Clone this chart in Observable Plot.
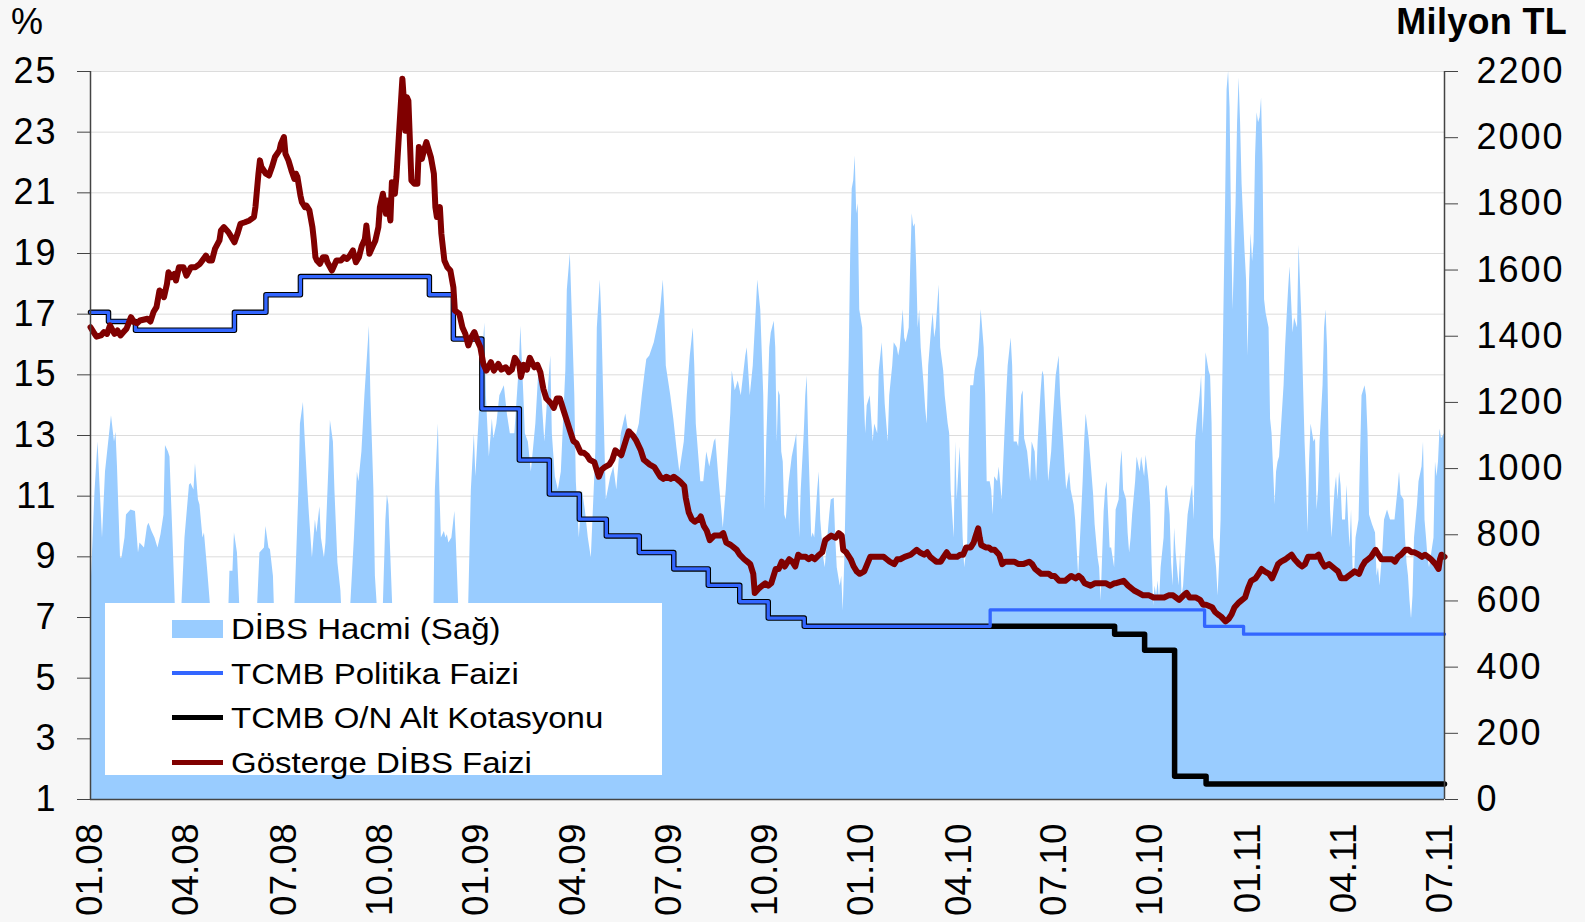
<!DOCTYPE html>
<html>
<head>
<meta charset="utf-8">
<script src="https://cdn.jsdelivr.net/npm/d3@7"></script>
<script src="https://cdn.jsdelivr.net/npm/@observablehq/plot@0.6"></script>
<style>
  html, body { margin: 0; padding: 0; background: #f7f7f7; }
  #wrap { position: relative; width: 1585px; height: 922px; font-family: "Liberation Sans", Arial, sans-serif; color: #000; overflow: hidden; }
  #chart { position: absolute; left: 0; top: 0; }
  #chart g[aria-label="y-axis tick label"] text { letter-spacing: 2px; }
  .unit { position: absolute; font-size: 36px; line-height: 1; }
  #legend { position: absolute; left: 105px; top: 603px; width: 557px; height: 172px; background: #fff; }
  .item { position: absolute; left: 0; height: 44px; width: 557px; }
  .sw { position: absolute; left: 67px; width: 51px; }
  .lt { position: absolute; left: 126px; font-size: 30px; line-height: 1; white-space: nowrap; transform: scaleX(1.1); transform-origin: 0 50%; }
</style>
</head>
<body>
<div id="wrap">
  <div id="chart"></div>
  <div class="unit" style="left:11px; top:4px;">%</div>
  <div class="unit" style="right:18px; top:4px; font-weight:bold; letter-spacing:0.3px;">Milyon TL</div>
  <div id="legend"></div>
</div>
<script>
// ---- axis tick labels ----
const xTickIdx = [0, 64, 129, 193, 257, 322, 386, 450, 514, 579, 643, 707, 772, 836, 900];
const xTickLabels = ["01.08","04.08","07.08","10.08","01.09","04.09","07.09","10.09","01.10","04.10","07.10","10.10","01.11","04.11","07.11"];
const leftTicks = [1,3,5,7,9,11,13,15,17,19,21,23,25];
const rightTicks = [0,200,400,600,800,1000,1200,1400,1600,1800,2000,2200];

// ---- series names ----
const seriesNames = ["DİBS Hacmi (Sağ)", "TCMB Politika Faizi", "TCMB O/N Alt Kotasyonu", "Gösterge DİBS Faizi"];

// ---- DİBS Hacmi (Milyon TL), business-day index ----
const volIdx = [0,3,5,8,10,14,16,17,18,20,21,23,24,27,30,32,33,36,38,39,41,43,45,47,49,50,52,53,55,57,59,61,63,66,67,69,70,72,73,75,76,78,81,86,92,93,95,96,98,100,106,111,113,116,117,119,120,122,123,130,136,139,140,142,143,145,146,148,150,151,153,154,156,157,159,160,162,163,165,167,168,171,173,176,178,179,181,183,186,187,189,190,192,193,195,197,198,199,202,215,228,
229,230,232,233,234,236,237,238,239,241,243,244,246,249,252,254,256,257,259,261,263,264,266,267,268,269,271,273,276,278,280,283,286,287,289,290,292,294,297,299,301,303,305,307,308,310,312,314,317,318,320,321,323,324,326,328,330,332,334,337,338,340,341,343,344,347,349,351,354,357,359,361,363,366,368,370,371,373,376,378,380,382,383,384,387,389,391,393,396,398,400,402,403,404,407,409,411,413,416,417,419,421,422,424,427,428,430,432,434,437,438,440,442,444,445,447,449,
450,451,453,454,456,457,458,459,460,461,462,463,464,466,468,470,471,472,473,474,476,477,478,479,481,482,483,485,486,487,489,490,492,493,494,496,497,498,500,501,502,503,504,506,507,508,509,510,511,512,513,515,516,517,518,520,521,522,523,525,526,528,529,530,532,533,535,536,538,539,540,542,543,544,546,547,548,549,550,551,552,553,554,556,557,558,559,561,562,563,564,566,567,569,570,572,573,574,576,577,578,580,581,582,583,585,586,587,589,590,592,593,594,596,597,598,600,601,602,603,605,606,608,610,611,612,614,615,616,618,619,621,622,623,625,627,628,630,631,632,634,635,636,638,639,641,642,644,646,647,649,650,651,653,654,656,657,659,661,662,663,664,666,667,669,670,672,673,674,676,677,678,680,681,683,
684,686,687,688,689,691,692,693,694,695,697,698,700,701,703,704,706,707,708,709,710,711,712,713,714,716,717,718,720,721,722,723,724,726,727,728,729,731,732,733,735,736,737,738,740,741,742,743,744,746,747,748,749,751,752,753,754,755,756,757,758,759,760,761,762,763,764,765,766,767,768,770,771,772,773,774,775,776,777,778,779,780,781,782,783,784,786,787,788,790,791,792,793,794,796,797,798,799,800,802,803,804,805,806,808,809,810,811,812,813,814,816,817,818,819,820,822,823,824,825,826,827,828,830,831,832,833,834,835,837,838,839,840,841,842,843,844,846,847,848,850,851,852,853,855,857,858,859,860,862,863,865,867,868,870,872,873,874,876,877,878,879,880,881,882,883,885,886,888,889,890,891,892,893,894,896,897,898,899,900,901,903];
const volVal = [600,930,1080,790,990,1160,1080,1110,1005,730,730,790,860,875,870,745,775,760,825,835,810,790,760,800,860,1070,1050,1035,790,530,450,590,790,950,955,935,1015,905,890,790,805,700,530,450,540,690,690,805,745,540,450,540,745,760,825,760,755,675,530,480,540,935,1135,1200,1105,935,860,730,845,805,885,790,730,775,1005,1145,1080,935,715,630,530,480,540,790,990,960,1050,1220,1430,1220,935,675,530,500,540,845,920,890,530,450,540,
545,935,1135,935,790,810,790,800,775,790,870,775,530,450,545,935,1105,975,1135,1310,1440,1220,1035,1090,1150,1090,1135,1220,1250,1165,1105,1105,1310,1430,1220,1105,1080,990,1135,1295,1220,1080,1220,1340,1105,975,935,990,1295,1540,1650,1510,1220,960,790,935,875,790,730,1050,1425,1570,1455,1080,905,975,1005,935,1105,1165,1105,1120,1080,1135,1220,1295,1330,1340,1380,1425,1470,1570,1480,1310,1220,1150,1065,990,1080,1220,1340,1425,1310,1135,960,960,1050,1005,1080,1090,975,875,820,935,1165,1295,1235,1265,1220,1340,1365,1220,1310,1480,1570,1480,1220,
875,1080,1365,1410,1445,1365,1080,1235,1220,1050,1020,860,845,960,1035,1080,1105,935,790,935,1105,1220,1280,1080,790,805,790,935,990,845,730,700,805,860,905,910,790,700,645,675,570,715,935,1340,1655,1845,1870,1945,1770,1800,1480,1425,1220,1105,1190,1220,1150,1080,1135,1105,1295,1380,1295,1195,1080,1220,1310,1380,1365,1340,1365,1480,1395,1380,1425,1610,1770,1730,1740,1610,1425,1480,1365,1250,1180,1135,1310,1425,1470,1395,1425,1555,1365,1295,1220,1135,1105,935,790,1080,905,1065,935,790,700,775,1080,1250,1250,1295,1340,1395,1480,1365,1220,960,960,935,860,975,960,1005,905,1120,1220,1310,1395,1310,1080,1080,1065,1220,1235,1090,1050,960,1080,1050,960,1080,1235,1295,1280,1080,960,1050,1135,1280,1340,1220,1080,1005,935,990,935,890,845,675,860,960,1080,1165,1090,1035,920,830,730,700,600,870,935,960,760,760,700,
875,905,1005,1055,935,905,805,745,790,860,960,1035,990,1035,975,1040,960,890,715,585,645,615,660,600,700,790,935,950,860,715,645,820,745,645,745,615,645,790,860,890,950,845,1080,1135,1220,1280,1105,1195,1350,1295,1280,1135,790,700,615,715,845,1220,1510,1800,2145,2200,2090,1730,1480,1640,1800,2045,2180,2045,1860,1655,1570,1340,1570,1710,1625,1685,1945,2075,2045,2060,2120,1915,1510,1470,1425,1150,1105,890,990,1020,1035,1105,1250,1365,1455,1540,1610,1410,1455,1440,1425,1675,1440,1250,1080,960,805,1020,1135,1080,1090,875,935,1080,1250,1425,1480,1365,1080,875,790,935,975,905,990,950,845,845,950,845,760,875,700,675,790,845,1035,1220,1250,1220,1105,860,830,805,675,700,645,760,845,875,845,845,845,935,990,920,905,790,715,675,600,545,615,790,890,960,1005,1080,845,790,730,700,730,790,1020,975,1020,1120,1090,1105];

// ---- Gösterge DİBS Faizi (%) ----
const yieldIdx = [0,2,4,7,9,11,13,16,18,20,22,24,27,29,31,33,38,40,42,44,46,48,49,51,52,54,56,57,59,62,64,67,70,73,77,79,81,83,86,87,89,92,94,96,98,100,103,106,109,110,112,113,114,117,119,121,123,126,127,129,130,132,134,136,137,138,140,141,143,144,146,148,149,150,151,153,155,157,158,161,162,164,167,169,171,173,175,177,179,181,183,184,186,188,190,192,193,195,197,198,200,201,203,204,206,208,209,210,211,212,214,216,218,219,221,223,224,227,229,230,231,233,234,236,238,240,242,243,246,248,250,252,254,256,258,260,262,264,267,269,272,
274,277,279,281,283,286,287,289,291,293,296,298,300,302,304,307,309,311,313,316,318,320,322,324,327,329,331,333,336,338,339,341,343,346,348,350,352,354,357,359,362,364,367,369,371,373,376,378,380,382,384,387,389,391,393,396,397,399,401,403,406,407,409,411,413,416,418,420,422,424,427,429,431,433,436,438,440,442,443,446,448,
450,452,454,457,459,461,463,466,468,470,472,474,477,479,481,483,486,488,490,492,494,497,499,501,502,504,507,509,511,513,516,518,520,523,527,529,531,533,536,538,540,543,547,549,551,553,556,558,560,562,564,567,569,571,573,576,578,580,582,584,587,589,590,592,593,594,597,599,601,603,606,608,610,612,616,619,622,626,628,630,632,634,637,639,641,643,646,648,650,652,654,657,659,661,663,667,670,673,677,680,683,
684,689,692,696,699,702,706,709,712,716,719,722,726,729,731,733,737,740,742,744,748,750,752,754,757,759,761,763,766,768,770,772,774,777,779,781,783,786,788,790,792,794,797,799,801,803,806,808,810,812,814,817,819,821,823,826,828,830,832,834,837,839,841,843,846,848,850,852,854,857,859,861,863,866,868,870,872,874,877,879,881,883,886,888,890,892,894,897,899,900,901,903];
const yieldVal = [16.57,16.41,16.26,16.3,16.41,16.35,16.63,16.35,16.46,16.3,16.41,16.52,16.9,16.74,16.7,16.79,16.85,16.76,17.07,17.23,17.78,17.67,17.56,18.0,18.38,18.22,18.33,18.11,18.55,18.55,18.27,18.55,18.55,18.66,18.93,18.77,18.77,19.15,19.43,19.76,19.87,19.7,19.54,19.37,19.65,19.98,20.03,20.09,20.2,20.53,21.63,22.07,21.85,21.63,21.57,21.85,22.18,22.4,22.62,22.84,22.29,22.07,21.74,21.46,21.63,21.52,20.91,20.69,20.53,20.58,20.42,19.87,19.43,18.88,18.77,18.66,18.88,18.88,18.71,18.44,18.55,18.77,18.77,18.88,18.82,18.93,19.1,18.71,18.88,19.26,19.48,19.92,18.99,19.21,19.43,19.87,20.53,20.97,20.31,20.75,20.09,21.35,20.97,21.52,23.16,24.76,24.04,23.05,24.15,24.04,21.41,21.3,21.3,22.51,22.12,22.51,22.67,22.18,21.63,20.53,20.2,20.53,19.65,18.77,18.55,18.44,17.89,17.12,17.01,16.57,16.35,15.97,16.24,16.41,16.13,15.91,15.36,15.14,15.42,15.14,15.36,
15.17,15.25,15.09,15.17,15.56,15.33,14.93,15.33,15.17,15.56,15.25,15.33,15.09,14.54,14.22,14.07,13.91,14.22,14.22,13.75,13.44,13.13,12.82,12.75,12.43,12.43,12.35,12.2,12.12,11.8,11.64,11.88,11.96,12.04,12.2,12.51,12.43,12.35,12.83,13.14,12.98,12.83,12.51,12.2,12.12,12.04,11.96,11.8,11.64,11.57,11.64,11.57,11.64,11.57,11.49,11.33,10.94,10.46,10.24,10.16,10.26,10.33,10.02,9.86,9.55,9.7,9.7,9.7,9.78,9.47,9.39,9.31,9.23,9.07,8.92,8.84,8.76,8.44,7.81,7.97,8.05,
8.13,8.05,8.13,8.6,8.6,8.84,8.68,8.92,8.84,8.68,9.07,9.0,9.0,8.92,9.0,8.92,9.07,9.15,9.55,9.63,9.7,9.63,9.78,9.7,9.23,9.15,8.92,8.68,8.52,8.44,8.52,8.76,9.0,9.0,9.0,9.0,8.92,8.84,8.76,8.92,8.92,9.0,9.07,9.15,9.23,9.15,9.07,9.15,9.0,8.92,8.84,8.84,9.0,9.15,9.0,9.0,9.0,9.07,9.07,9.31,9.31,9.47,9.63,9.94,9.63,9.39,9.31,9.31,9.23,9.23,9.07,8.76,8.84,8.84,8.84,8.76,8.76,8.84,8.76,8.6,8.52,8.44,8.44,8.44,8.37,8.37,8.21,8.21,8.21,8.29,8.37,8.29,8.37,8.29,8.13,8.05,8.13,8.13,8.13,8.05,8.13,
8.13,8.21,8.05,7.89,7.81,7.73,7.73,7.66,7.66,7.66,7.73,7.73,7.58,7.73,7.81,7.66,7.66,7.58,7.42,7.42,7.34,7.18,7.1,7.03,6.87,6.95,7.1,7.34,7.5,7.58,7.66,7.97,8.21,8.29,8.44,8.6,8.52,8.44,8.29,8.52,8.76,8.84,8.92,9.0,9.07,8.92,8.76,8.68,8.76,9.0,9.0,9.0,9.07,8.84,8.68,8.76,8.68,8.6,8.52,8.29,8.29,8.37,8.44,8.52,8.44,8.68,8.84,8.92,9.0,9.23,9.07,8.92,8.92,8.92,8.92,8.84,9.0,9.07,9.23,9.23,9.15,9.15,9.07,9.0,9.07,9.0,8.92,8.76,8.6,8.92,9.07,9.0];

// ---- TCMB Politika Faizi (%), change points ----
const policyIdx = [0,12,30,96,117,140,226,242,261,286,306,326,344,366,389,412,433,452,476,600,743,769,903];
const policyVal = [17.06,16.76,16.47,17.06,17.64,18.24,17.64,16.18,13.88,12.19,11.07,10.24,9.69,9.14,8.60,8.06,7.52,6.98,6.71,7.25,6.71,6.45,6.45];

// ---- TCMB O/N Alt Kotasyonu (%), change points ----
const onIdx = [0,12,30,96,117,140,226,242,261,286,306,326,344,366,389,412,433,452,476,683,703,723,744,903];
const onVal = [17.06,16.76,16.47,17.06,17.64,18.24,17.64,16.18,13.88,12.19,11.07,10.24,9.69,9.14,8.60,8.06,7.52,6.98,6.71,6.45,5.92,1.77,1.51,1.51];

const colors = { vol: "#99ccff", policy: "#3366ff", on: "#000000", yield: "#800000" };

// ---- build tables ----
const toLeft = v => 1 + v * 24 / 2200;
const vol = volIdx.map((i, k) => ({ i, v: volVal[k] }));
const yld = yieldIdx.map((i, k) => ({ i, r: yieldVal[k] }));
const pol = policyIdx.map((i, k) => ({ i, r: policyVal[k] }));
const on = onIdx.map((i, k) => ({ i, r: onVal[k] }));
const xDomain = [0, 903];

const chart = Plot.plot({
  width: 1585,
  height: 922,
  marginLeft: 90,
  marginRight: 141,
  marginTop: 71,
  marginBottom: 123,
  style: { background: "transparent", fontFamily: "'Liberation Sans', Arial, sans-serif", fontSize: "37px", color: "#000", overflow: "visible" },
  x: { type: "linear", domain: xDomain },
  y: { type: "linear", domain: [1, 25] },
  marks: [
    Plot.frame({ fill: "#ffffff", stroke: "none" }),
    Plot.gridY(leftTicks, { stroke: "#dcdcdc", strokeOpacity: 1, strokeWidth: 1 }),
    Plot.areaY(vol, { x: "i", y1: () => 1, y2: d => toLeft(d.v), fill: colors.vol }),
    Plot.line(on, { x: "i", y: "r", curve: "step-after", stroke: colors.on, strokeWidth: 5.5 }),
    Plot.line(pol, { x: "i", y: "r", curve: "step-after", stroke: colors.policy, strokeWidth: 3.3 }),
    Plot.line(yld, { x: "i", y: "r", stroke: colors.yield, strokeWidth: 6, strokeLinejoin: "round", strokeLinecap: "round" }),
    Plot.ruleX(xDomain, { stroke: "#444", strokeWidth: 1.5 }),
    Plot.ruleY([1], { stroke: "#444", strokeWidth: 1.5 }),
    Plot.axisY(leftTicks, { anchor: "left", tickSize: 13, tickPadding: 20, label: null, stroke: "#444", fill: "#000", fontSize: 36 }),
    Plot.axisY(rightTicks.map(toLeft), { anchor: "right", tickSize: 13, tickPadding: 19, label: null, stroke: "#444", fill: "#000", fontSize: 36,
      tickFormat: d => String(Math.round((d - 1) * 2200 / 24)) }),
    Plot.axisX(xTickIdx, { anchor: "bottom", tickSize: 0, tickPadding: 24, tickRotate: -90, label: null, fill: "#000", fontSize: 37,
      tickFormat: d => xTickLabels[xTickIdx.indexOf(d)] })
  ]
});
document.getElementById("chart").appendChild(chart);

// ---- legend ----
const legend = document.getElementById("legend");
const legendRows = [
  { name: seriesNames[0], kind: "box", color: colors.vol },
  { name: seriesNames[1], kind: "line", color: colors.policy, w: 4 },
  { name: seriesNames[2], kind: "line", color: colors.on, w: 5 },
  { name: seriesNames[3], kind: "line", color: colors.yield, w: 5 }
];
legendRows.forEach((r, k) => {
  const row = document.createElement("div");
  row.className = "item";
  const cy = 25.5 + k * 44.7;
  row.style.top = (cy - 22) + "px";
  const sw = document.createElement("div");
  sw.className = "sw";
  const h = r.kind === "box" ? 18 : r.w;
  sw.style.height = h + "px";
  sw.style.top = (22 - h / 2) + "px";
  sw.style.background = r.color;
  const t = document.createElement("div");
  t.className = "lt";
  t.style.top = (22 - 14.6) + "px";
  t.textContent = r.name;
  row.appendChild(sw);
  row.appendChild(t);
  legend.appendChild(row);
});
</script>
</body>
</html>
